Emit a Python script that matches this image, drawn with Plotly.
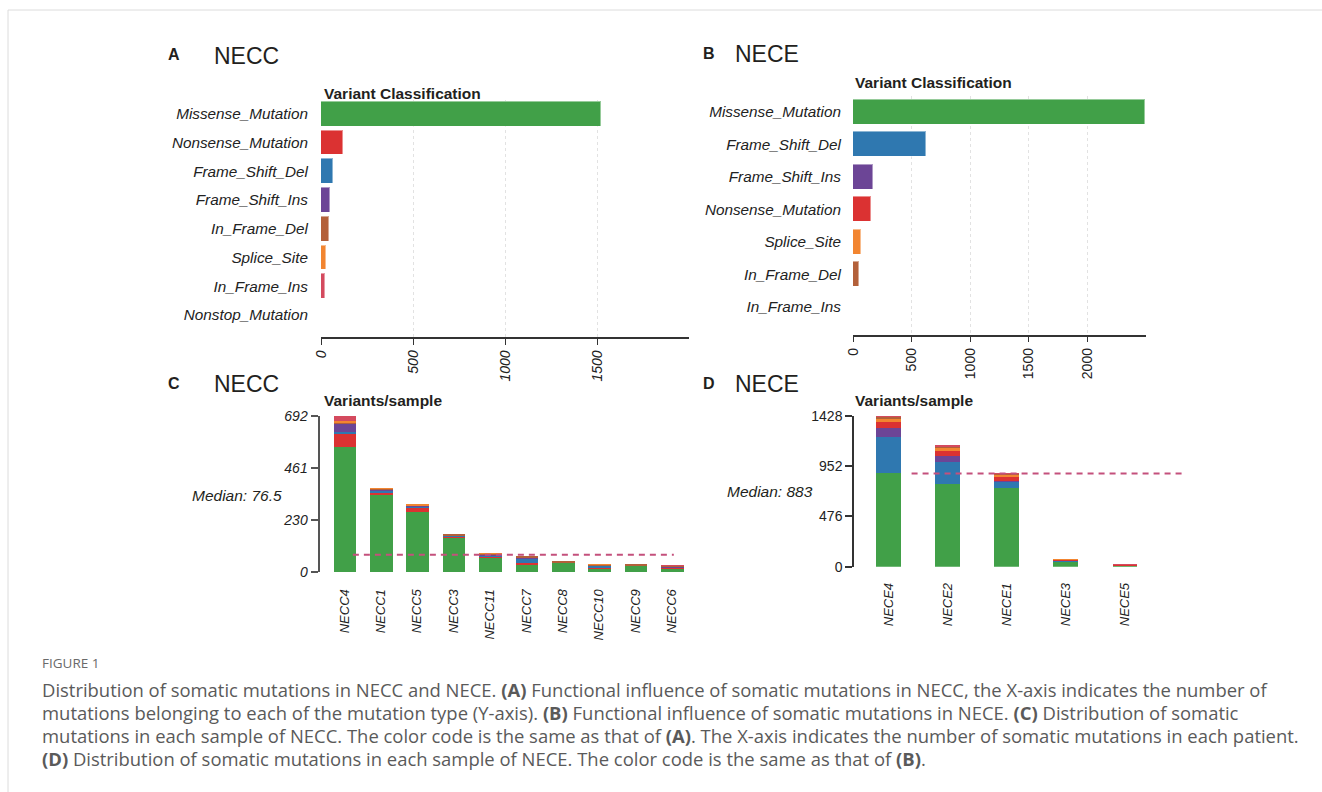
import plotly.graph_objects as go
import numpy as np

W, H = 1322, 792

# ---------------- data ----------------
vc_colors = {
    "Missense_Mutation": "#41A048",
    "Nonsense_Mutation": "#DB3232",
    "Frame_Shift_Del": "#2F78B0",
    "Frame_Shift_Ins": "#6C4596",
    "In_Frame_Del": "#B3603A",
    "Splice_Site": "#F28530",
    "In_Frame_Ins": "#D44A5E",
    "Nonstop_Mutation": "#A6CEE3",
}

# Panel A (NECC) variant classification
a_classes = ["Missense_Mutation", "Nonsense_Mutation", "Frame_Shift_Del", "Frame_Shift_Ins",
             "In_Frame_Del", "Splice_Site", "In_Frame_Ins", "Nonstop_Mutation"]
a_counts = [1523, 119, 65, 47, 42, 26, 21, 1]

# Panel B (NECE) variant classification
b_classes = ["Missense_Mutation", "Frame_Shift_Del", "Frame_Shift_Ins", "Nonsense_Mutation",
             "Splice_Site", "In_Frame_Del", "In_Frame_Ins"]
b_counts = [2490, 619, 168, 157, 68, 51, 3]

# Panel C (NECC) variants per sample
c_samples = ["NECC4", "NECC1", "NECC5", "NECC3", "NECC11", "NECC7", "NECC8", "NECC10", "NECC9", "NECC6"]
c_missense = [556, 341, 267, 150, 64, 32, 40, 16, 28, 17]
c_nonsense = [59, 12, 21, 9, 5, 6, 2, 3, 0, 3]
c_fs_del = [5, 8, 2, 3, 3, 21, 1, 10, 0, 2]
c_fs_ins = [37, 5, 4, 2, 6, 1, 0, 0, 2, 3]
c_if_del = [7, 3, 3, 3, 4, 10, 2, 4, 2, 3]
c_splice = [7, 2, 3, 0, 1, 0, 0, 2, 0, 2]
c_if_ins = [21, 0, 0, 0, 0, 0, 0, 0, 0, 1]
c_nonstop = [0, 0, 0, 0, 0, 0, 0, 0, 0, 0]
c_ticks = [0, 230, 461, 692]

# Panel D (NECE) variants per sample
d_samples = ["NECE4", "NECE2", "NECE1", "NECE3", "NECE5"]
d_missense = [891, 779, 745, 50, 14]
d_fs_del = [334, 215, 63, 8, 1]
d_fs_ins = [89, 54, 6, 4, 0]
d_nonsense = [57, 47, 45, 8, 4]
d_splice = [38, 32, 12, 2, 1]
d_if_del = [16, 16, 8, 0, 1]
d_if_ins = [3, 2, 4, 0, 1]
d_ticks = [0, 476, 952, 1428]

c_stack = {
    "Missense_Mutation": c_missense, "Nonsense_Mutation": c_nonsense,
    "Frame_Shift_Del": c_fs_del, "Frame_Shift_Ins": c_fs_ins,
    "In_Frame_Del": c_if_del, "Splice_Site": c_splice,
    "In_Frame_Ins": c_if_ins, "Nonstop_Mutation": c_nonstop,
}
d_stack = {
    "Missense_Mutation": d_missense, "Frame_Shift_Del": d_fs_del,
    "Frame_Shift_Ins": d_fs_ins, "Nonsense_Mutation": d_nonsense,
    "Splice_Site": d_splice, "In_Frame_Del": d_if_del, "In_Frame_Ins": d_if_ins,
}

caption_lines = [
    ["Distribution of somatic mutations in NECC and NECE. ", "<b>(A)</b>",
     " Functional influence of somatic mutations in NECC, the X-axis indicates the number of"],
    ["mutations belonging to each of the mutation type (Y-axis). ", "<b>(B)</b>",
     " Functional influence of somatic mutations in NECE. ", "<b>(C)</b>", " Distribution of somatic"],
    ["mutations in each sample of NECC. The color code is the same as that of ", "<b>(A)</b>",
     ". The X-axis indicates the number of somatic mutations in each patient."],
    ["<b>(D)</b>", " Distribution of somatic mutations in each sample of NECE. The color code is the same as that of ",
     "<b>(B)</b>", "."],
]


def px(x):
    return x / W


def py(y):
    return 1 - y / H


FONT = "Liberation Sans, Arial, sans-serif"
fig = go.Figure()

edge = dict(color="rgba(255,255,255,0.45)", width=1)

# Panel A
fig.add_trace(go.Bar(
    y=a_classes, x=a_counts, orientation="h",
    marker=dict(color=[vc_colors[c] for c in a_classes], line=edge),
    width=0.86, xaxis="x", yaxis="y", showlegend=False))

# Panel B
fig.add_trace(go.Bar(
    y=b_classes, x=b_counts, orientation="h",
    marker=dict(color=[vc_colors[c] for c in b_classes], line=edge),
    width=0.77, xaxis="x2", yaxis="y2", showlegend=False))

c_idx = list(range(len(c_samples)))
d_idx = list(range(len(d_samples)))

# Panel C stacked
for cls in a_classes:
    fig.add_trace(go.Bar(
        x=c_idx, y=c_stack[cls], name=cls,
        marker=dict(color=vc_colors[cls], line=dict(width=0)),
        width=0.62, xaxis="x3", yaxis="y3", showlegend=False))

# Panel D stacked
for cls in b_classes:
    fig.add_trace(go.Bar(
        x=d_idx, y=d_stack[cls], name=cls,
        marker=dict(color=vc_colors[cls], line=dict(width=0)),
        width=0.42, xaxis="x4", yaxis="y4", showlegend=False))

c_tot = np.sum([np.array(v) for v in c_stack.values()], axis=0)
d_tot = np.sum([np.array(v) for v in d_stack.values()], axis=0)
c_med = float(np.median(c_tot))
d_med = float(np.median(d_tot))

# median lines
fig.add_trace(go.Scatter(x=[0.23, 9.05], y=[c_med, c_med], mode="lines",
                         line=dict(color="#C4507C", width=2, dash="6px,5px"),
                         xaxis="x3", yaxis="y3", showlegend=False, hoverinfo="skip"))
fig.add_trace(go.Scatter(x=[0.39, 5.02], y=[d_med, d_med], mode="lines",
                         line=dict(color="#C4507C", width=2, dash="6px,5px"),
                         xaxis="x4", yaxis="y4", showlegend=False, hoverinfo="skip"))

tick_it = dict(family=FONT, size=14, color="#222", style="italic")
tick_up = dict(family=FONT, size=14, color="#222")

fig.update_layout(
    width=W, height=H, margin=dict(l=0, r=0, t=0, b=0, pad=0, autoexpand=False),
    paper_bgcolor="white", plot_bgcolor="white", barmode="stack",
    bargap=0, showlegend=False,
    xaxis=dict(domain=[px(321), px(689)], range=[0, 2000], tickvals=[0, 500, 1000, 1500],
               tickangle=-90, tickfont=tick_it, ticks="outside", ticklen=6, tickcolor="#333",
               showline=True, linecolor="#333", linewidth=1.5, showgrid=True,
               gridcolor="#e2e2e2", griddash="dot", zeroline=False, anchor="y"),
    yaxis=dict(domain=[py(337), py(99.6)], type="category", categoryorder="array",
               categoryarray=a_classes, range=[7.765, -0.5], tickfont=dict(tick_it, size=15.3),
               ticks="outside", ticklen=9, tickcolor="rgba(0,0,0,0)", showline=False,
               showgrid=False, zeroline=False, anchor="x"),
    xaxis2=dict(domain=[px(853), px(1146)], range=[0, 2500], tickvals=[0, 500, 1000, 1500, 2000],
                tickangle=-90, tickfont=tick_up, ticks="outside", ticklen=6, tickcolor="#333",
                showline=True, linecolor="#333", linewidth=1.5, showgrid=True,
                gridcolor="#e2e2e2", griddash="dot", zeroline=False, anchor="y2"),
    yaxis2=dict(domain=[py(334.7), py(95.5)], type="category", categoryorder="array",
                categoryarray=b_classes, range=[6.86, -0.5], tickfont=dict(tick_it, size=15.3),
                ticks="outside", ticklen=8, tickcolor="rgba(0,0,0,0)", showline=False,
                showgrid=False, zeroline=False, anchor="x2"),
    xaxis3=dict(domain=[px(319.5), px(692)], range=[-0.687, 9.55], tickvals=c_idx,
                ticktext=c_samples, tickangle=-90,
                tickfont=dict(tick_it, size=13), ticks="outside", ticklen=11,
                tickcolor="rgba(0,0,0,0)", showline=False, showgrid=False, zeroline=False,
                anchor="y3"),
    yaxis3=dict(domain=[py(572), py(416)], range=[0, c_ticks[-1]], tickvals=c_ticks,
                tickfont=tick_it, ticks="outside", ticklen=7, tickcolor="#555", tickwidth=1.5,
                showline=True, linecolor="#555", linewidth=2, showgrid=False, zeroline=False,
                anchor="x3"),
    xaxis4=dict(domain=[px(854), px(1190)], range=[-0.584, 5.10], tickvals=d_idx,
                ticktext=d_samples, tickangle=-90,
                tickfont=dict(tick_it, size=13), ticks="outside", ticklen=10,
                tickcolor="rgba(0,0,0,0)", showline=False, showgrid=False, zeroline=False,
                anchor="y4"),
    yaxis4=dict(domain=[py(566.7), py(416)], range=[0, d_ticks[-1]], tickvals=d_ticks,
                tickfont=tick_up, ticks="outside", ticklen=7, tickcolor="#333", tickwidth=1.5,
                showline=True, linecolor="#333", linewidth=1.5, showgrid=False, zeroline=False,
                anchor="x4"),
)

ann = []


def text(x, y, s, size, xanchor="left", bold=False, italic=False, color="#231f20", family=FONT):
    f = dict(family=family, size=size, color=color)
    if italic:
        f["style"] = "italic"
    if bold:
        f["weight"] = "bold"
    ann.append(dict(x=px(x), y=py(y), xref="paper", yref="paper", text=s, showarrow=False,
                    xanchor=xanchor, yanchor="middle", font=f))


# panel letters and titles
for (lx, ly, letter, tx, title) in [(174, 55, "A", 212, "NECC"), (709, 53, "B", 733, "NECE"),
                                     (174, 383, "C", 212, "NECC"), (709, 383, "D", 733, "NECE")]:
    text(lx, ly, letter, 16, xanchor="center", bold=True)
    text(tx, ly + 1, title, 23)

text(322, 93, "Variant Classification", 15.5, bold=True)
text(853, 83, "Variant Classification", 15.5, bold=True)
text(322, 400, "Variants/sample", 15.5, bold=True)
text(853, 400, "Variants/sample", 15.5, bold=True)

text(284, 495, f"Median: {c_med:g}", 15.5, xanchor="right", italic=True)
text(815, 491, f"Median: {d_med:g}", 15.5, xanchor="right", italic=True)

# caption
CAP = "Open Sans, sans-serif"
text(40, 663, "FIGURE 1", 13.5, color="#6a6a6a", family=CAP)
for i, parts in enumerate(caption_lines):
    text(40, 689 + 23 * i, "".join(parts), 18.45, color="#5a5a5a", family=CAP)

fig.update_layout(annotations=ann)

# card border
fig.add_shape(type="line", xref="paper", yref="paper", x0=px(8), x1=1, y0=py(10), y1=py(10),
              line=dict(color="#dcdcdc", width=1))
fig.add_shape(type="line", xref="paper", yref="paper", x0=px(8), x1=px(8), y0=py(10), y1=0,
              line=dict(color="#dcdcdc", width=1))

fig.write_html("out.html", config={"displayModeBar": False},
               post_script="document.body.style.margin='0';")
